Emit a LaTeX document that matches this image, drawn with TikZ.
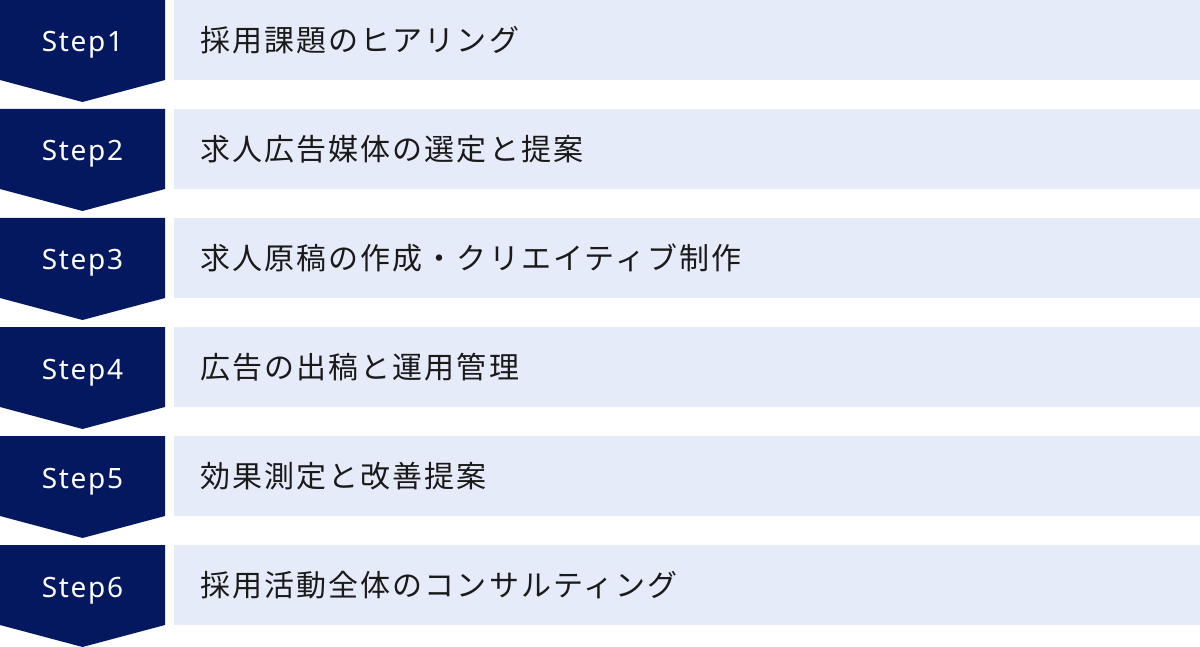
\documentclass[tikz,border=0pt]{standalone}
\usepackage{fontspec}
\setmainfont{Noto Sans}
\newfontfamily\stepfont[LetterSpace=6]{Noto Sans}
\newfontfamily\jp[LetterSpace=7]{Noto Sans CJK JP}
\definecolor{navy}{RGB}{4,24,96}
\definecolor{lightbg}{RGB}{229,235,248}
\definecolor{ink}{RGB}{26,26,26}
\tikzset{
  chev/.style={fill=navy, draw=none},
  bar/.style={fill=lightbg, draw=none},
  steplabel/.style={anchor=base, inner sep=0pt, text=white, font=\stepfont\fontsize{28}{30}\selectfont},
  itemlabel/.style={anchor=base west, inner sep=0pt, text=ink, font=\jp\fontsize{30}{33}\selectfont},
}
\begin{document}
\begin{tikzpicture}[x=1pt,y=-1pt]
\useasboundingbox (0,0) rectangle (1200,647);
\foreach \i/\txt in {1/採用課題のヒアリング,2/求人広告媒体の選定と提案,3/求人原稿の作成・クリエイティブ制作,4/広告の出稿と運用管理,5/効果測定と改善提案,6/採用活動全体のコンサルティング}{
  \pgfmathsetmacro{\t}{(\i-1)*109}
  \fill[chev] (0,\t) -- (165,\t) -- (165,\t+80) -- (82.5,\t+102) -- (0,\t+80) -- cycle;
  \fill[bar] (174,\t) rectangle (1200,\t+80);
  \node[steplabel] (s\i) at (82.5,\t+52) {Step\i};
  \node[itemlabel] (t\i) at (200,\t+51.5) {\txt};
}
\end{tikzpicture}
\end{document}
